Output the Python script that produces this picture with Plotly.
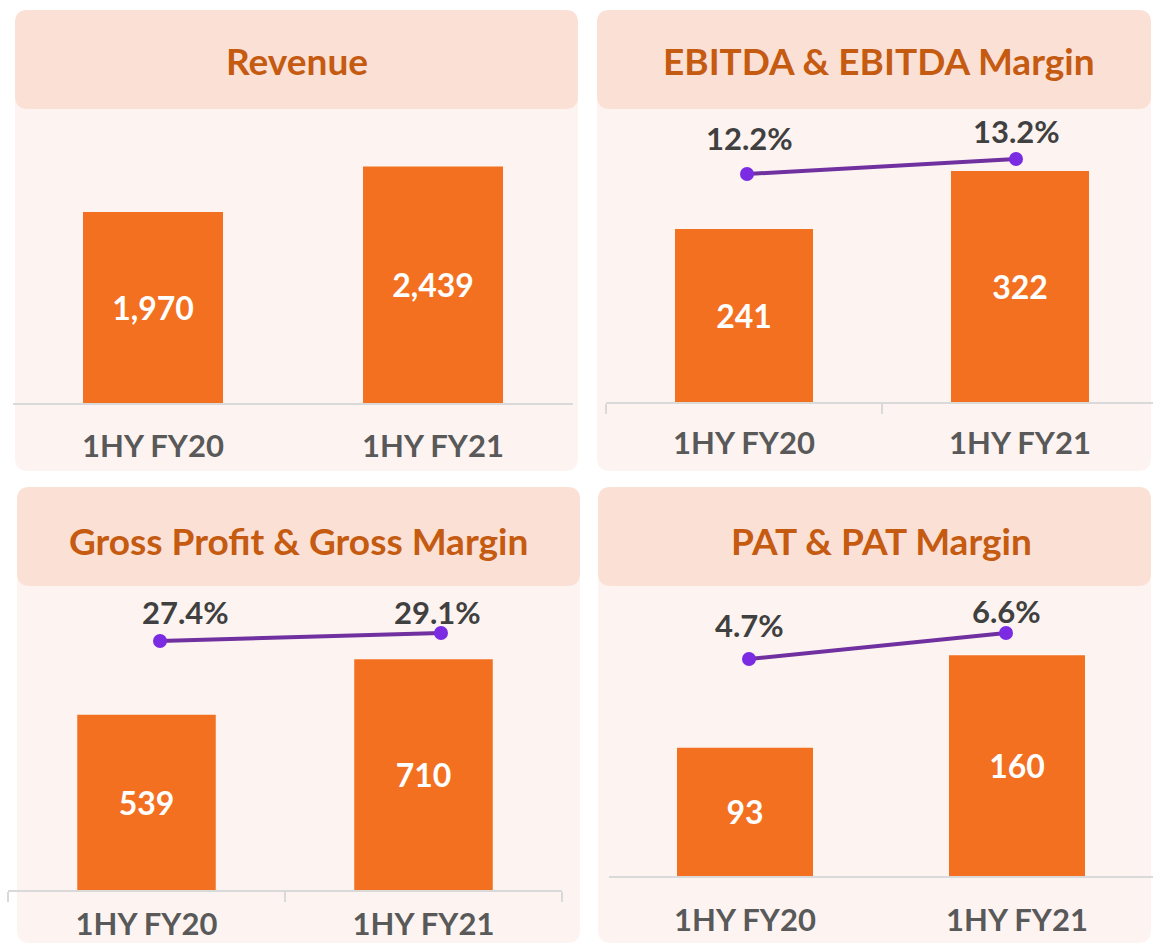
import plotly.graph_objects as go

W, H = 1153, 945

# ---------------- data ----------------
categories = ["1HY FY20", "1HY FY21"]
revenue = [1970, 2439]
ebitda = [241, 322]
ebitda_margin = [12.2, 13.2]
gross_profit = [539, 710]
gross_margin = [27.4, 29.1]
pat = [93, 160]
pat_margin = [4.7, 6.6]
titles = ["Revenue", "EBITDA & EBITDA Margin", "Gross Profit & Gross Margin", "PAT & PAT Margin"]

# ---------------- styles ----------------
FONT = "Lato"
BAR_COLOR = "#F37021"
LINE_COLOR = "#7030A0"
MARKER_COLOR = "#7B2BE2"
TITLE_COLOR = "#C55A11"
CAT_COLOR = "#595959"
PCT_COLOR = "#404040"
HEADER_BG = "#FBE0D6"
BODY_BG = "#FDF4F1"
AXIS_COLOR = "#D9D9D9"


def px_x(a, b):
    return [a / W, b / W]


def px_y(top, bottom):
    return [1 - bottom / H, 1 - top / H]


def rrect(x0, y0, x1, y1, r=13):
    def P(x, y):
        return f"{x / W:.5f},{1 - y / H:.5f}"
    return (f"M{P(x0 + r, y0)} L{P(x1 - r, y0)} Q{P(x1, y0)} {P(x1, y0 + r)} "
            f"L{P(x1, y1 - r)} Q{P(x1, y1)} {P(x1 - r, y1)} L{P(x0 + r, y1)} "
            f"Q{P(x0, y1)} {P(x0, y1 - r)} L{P(x0, y0 + r)} Q{P(x0, y0)} {P(x0 + r, y0)} Z")


panels = [
    dict(bars=revenue, margin=None, fmt="%{y:,}", box=(15, 10, 578, 471), head=109,
         title_pos=(297, 60), xdom=(13, 573), xr=[-0.5, 1.5], ydom=(110, 403), yr=[0, 3022],
         ticks=False, standoff=15),
    dict(bars=ebitda, margin=ebitda_margin, fmt="%{y}", box=(597, 10, 1151, 471), head=109,
         title_pos=(879, 60), xdom=(606, 1153), xr=[-0.5, 1.4819], ydom=(110, 402), yr=[0, 406.9],
         ticks=True, standoff=13, lxdom=(612.5, 1150.5), lyr=[-3.0, 16.467],
         shifts=[(2, 36), (0, 28)]),
    dict(bars=gross_profit, margin=gross_margin, fmt="%{y}", box=(17, 487, 580, 943), head=586,
         title_pos=(299, 540), xdom=(8, 562), xr=[-0.5, 1.5], ydom=(588, 890), yr=[0, 929.2],
         ticks=True, standoff=6, lxdom=(19.5, 581.5), lyr=[-25.51, 38.66],
         shifts=[(25, 29), (-4, 21)]),
    dict(bars=pat, margin=pat_margin, fmt="%{y}", box=(598, 487, 1151, 943), head=586,
         title_pos=(881, 540), xdom=(609, 1153), xr=[-0.5, 1.5], ydom=(588, 876), yr=[0, 208.85],
         ticks=False, standoff=16, lxdom=(620.5, 1134.5), lyr=[-11.16, 9.89],
         shifts=[(0, 34), (0, 22)]),
]

fig = go.Figure()
shapes = []
annotations = []
layout_axes = {}
line_idx = 5

for i, p in enumerate(panels, start=1):
    x0, y0, x1, y1 = p["box"]
    shapes.append(dict(type="path", path=rrect(x0, y0, x1, y1), xref="paper", yref="paper",
                       fillcolor=BODY_BG, line=dict(width=0), layer="below"))
    shapes.append(dict(type="path", path=rrect(x0, y0, x1, p["head"]), xref="paper", yref="paper",
                       fillcolor=HEADER_BG, line=dict(width=0), layer="below"))
    tx, ty = p["title_pos"]
    annotations.append(dict(text=f"<b>{titles[i - 1]}</b>", x=tx / W, y=1 - ty / H, xref="paper",
                            yref="paper", xanchor="center", yanchor="middle", showarrow=False,
                            font=dict(family=FONT, size=37, color=TITLE_COLOR)))

    fig.add_trace(go.Bar(x=categories, y=p["bars"], xaxis=f"x{i}", yaxis=f"y{i}",
                         marker=dict(color=BAR_COLOR, line=dict(width=0)), width=0.5,
                         texttemplate=p["fmt"], textposition="inside", insidetextanchor="middle",
                         textangle=0, constraintext="none",
                         textfont=dict(family=FONT, size=32, color="white", weight="bold"),
                         showlegend=False, hoverinfo="skip"))
    layout_axes[f"xaxis{i}"] = dict(
        domain=px_x(*p["xdom"]), range=p["xr"], anchor=f"y{i}", type="category",
        showline=True, linecolor=AXIS_COLOR, linewidth=1.5, showgrid=False, zeroline=False,
        ticks="outside" if p["ticks"] else "", tickson="boundaries", ticklen=10,
        tickcolor=AXIS_COLOR, tickwidth=1.5,
        ticklabelstandoff=p["standoff"], automargin=False,
        tickfont=dict(family=FONT, size=31, color=CAT_COLOR, weight="bold"), fixedrange=True)
    layout_axes[f"yaxis{i}"] = dict(
        domain=px_y(*p["ydom"]), range=p["yr"], anchor=f"x{i}", visible=False,
        showgrid=False, zeroline=False, fixedrange=True, automargin=False)

    if p["margin"] is not None:
        j = line_idx
        fig.add_trace(go.Scatter(x=categories, y=p["margin"], xaxis=f"x{j}", yaxis=f"y{j}",
                                 mode="lines+markers", line=dict(color=LINE_COLOR, width=4),
                                 marker=dict(color=MARKER_COLOR, size=14),
                                 showlegend=False, hoverinfo="skip", cliponaxis=False))
        layout_axes[f"xaxis{j}"] = dict(domain=px_x(*p["lxdom"]), range=[-0.5, 1.5],
                                        anchor=f"y{j}", type="category", visible=False,
                                        fixedrange=True, automargin=False)
        layout_axes[f"yaxis{j}"] = dict(domain=px_y(*p["ydom"]), range=p["lyr"],
                                        anchor=f"x{j}", visible=False, fixedrange=True,
                                        automargin=False)
        for c, v, (sx, sy) in zip(categories, p["margin"], p["shifts"]):
            annotations.append(dict(text=f"<b>{v:.1f}%</b>", x=c, y=v, xref=f"x{j}", yref=f"y{j}",
                                    xanchor="center", yanchor="middle", xshift=sx, yshift=sy,
                                    showarrow=False,
                                    font=dict(family=FONT, size=31, color=PCT_COLOR)))
        line_idx += 1

fig.update_layout(
    width=W, height=H, margin=dict(l=0, r=0, t=0, b=0, pad=0, autoexpand=False),
    paper_bgcolor="white", plot_bgcolor="rgba(0,0,0,0)",
    shapes=shapes, annotations=annotations, showlegend=False,
    barmode="group", font=dict(family=FONT),
    **layout_axes,
)

fig.write_html("out.html", config={"displayModeBar": False},
               post_script="document.body.style.margin='0';document.body.style.overflow='hidden';")
